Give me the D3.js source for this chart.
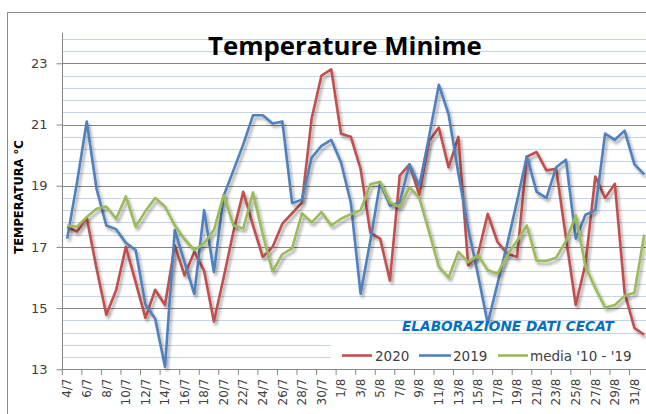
<!DOCTYPE html>
<html><head><meta charset="utf-8">
<script src="https://cdn.jsdelivr.net/npm/d3@7"></script>
<style>body{margin:0;background:#fff}svg{display:block}</style>
</head><body>
<svg id="c" width="646" height="414"></svg>
<script>
const dates = ['4/7','5/7','6/7','7/7','8/7','9/7','10/7','11/7','12/7','13/7','14/7','15/7','16/7','17/7','18/7','19/7','20/7','21/7','22/7','23/7','24/7','25/7','26/7','27/7','28/7','29/7','30/7','31/7',
 '1/8','2/8','3/8','4/8','5/8','6/8','7/8','8/8','9/8','10/8','11/8','12/8','13/8','14/8','15/8','16/8','17/8','18/8','19/8','20/8','21/8','22/8','23/8','24/8','25/8','26/8','27/8','28/8','29/8','30/8','31/8','1/9'];
const s2020 = [17.65,17.5,17.95,16.3,14.78,15.58,17.0,15.85,14.68,15.6,15.1,17.05,16.07,16.84,16.22,14.56,16.0,17.5,18.8,17.7,16.67,17.0,17.76,18.1,18.45,21.2,22.6,22.8,
 20.7,20.6,19.55,17.46,17.27,15.9,19.33,19.7,18.7,20.46,20.9,19.6,20.6,16.4,16.75,18.08,17.16,16.78,16.67,19.95,20.1,19.5,19.55,17.3,15.1,16.46,19.3,18.6,19.06,15.5,14.35,14.13];
const s2019 = [17.27,19.1,21.1,18.9,17.7,17.58,17.13,16.9,15.12,14.65,13.08,17.55,16.5,15.46,18.2,16.18,18.67,19.5,20.35,21.3,21.3,21.03,21.1,18.43,18.54,19.92,20.3,20.5,
 19.76,18.45,15.47,17.2,19.1,18.35,18.45,19.7,19.0,20.6,22.3,21.33,19.4,17.6,16.1,14.5,15.8,17.1,18.5,19.96,18.8,18.6,19.6,19.85,17.27,18.05,18.2,20.7,20.5,20.8,19.7,19.37];
const sMedia = [17.7,17.66,17.98,18.25,18.32,17.92,18.65,17.66,18.17,18.6,18.32,17.7,17.25,16.9,17.12,17.55,18.7,17.7,17.6,18.78,17.4,16.2,16.76,16.95,18.1,17.8,18.14,17.7,
 17.92,18.07,18.2,19.05,19.13,18.45,18.3,18.95,18.6,17.5,16.35,16.0,16.84,16.5,16.73,16.24,16.13,16.73,17.2,17.7,16.54,16.54,16.65,17.2,18.03,16.35,15.65,15.02,15.1,15.4,15.5,17.4];
const yTicks = [13,15,17,19,21,23];
const seriesNames = ['2020','2019',"media '10 - '19"];
const seriesColors = ['#c0504d','#4f81bd','#9bbb59'];
const title = 'Temperature Minime';
const yTitle = 'TEMPERATURA °C';
const credit = 'ELABORAZIONE DATI CECAT';

const svg = d3.select('#c');
const defs = svg.append('defs');
const f = defs.append('filter').attr('id','sh').attr('x','-10%').attr('y','-10%').attr('width','120%').attr('height','130%');
f.append('feDropShadow').attr('dx',2).attr('dy',3).attr('stdDeviation',1.6).attr('flood-color','#000').attr('flood-opacity',0.35);

const x = d3.scaleBand().domain(dates).range([62.3, 62.3 + 9.78*dates.length]).padding(0);
const cx = d => x(d) + x.bandwidth()/2;
const y = d3.scaleLinear().domain([13,24]).range([369.3, 32.7]);
const xR = 660;

// outer border
svg.append('rect').attr('x',7.5).attr('y',12.5).attr('width',700).attr('height',420)
  .attr('fill','#fff').attr('stroke','#8c8c8c').attr('stroke-width',1);

// minor gridlines
const minor = d3.range(1,28).filter(k => k%5 !== 0).map(k => 13 + k*0.4);
svg.append('g').selectAll('line').data(minor).join('line')
  .attr('x1',62.3).attr('x2',xR).attr('y1',d=>Math.round(y(d))+0.5).attr('y2',d=>Math.round(y(d))+0.5)
  .attr('stroke','#c5d3ec').attr('stroke-width',1);
// major gridlines
svg.append('g').selectAll('line').data(yTicks).join('line')
  .attr('x1',62.3).attr('x2',xR).attr('y1',d=>Math.round(y(d))+0.5).attr('y2',d=>Math.round(y(d))+0.5)
  .attr('stroke','#868686').attr('stroke-width',1);

// y axis
const ya = svg.append('g').attr('transform','translate(62.5,0)')
  .call(d3.axisLeft(y).tickValues(yTicks).tickSize(6).tickFormat(d3.format('d')));
ya.select('.domain').attr('stroke','#868686').attr('d','M0,32.7V369.3');
ya.selectAll('.tick line').attr('stroke','#868686');
ya.selectAll('.tick text').attr('x',-15).attr('fill','#404040')
  .style('font-family','"DejaVu Sans", sans-serif').style('font-size','13px');

// x axis
const evenDates = dates.filter((d,i)=> i%2===0);
const xa = svg.append('g').attr('transform','translate(0,369.5)')
  .call(d3.axisBottom(x).tickValues(evenDates).tickSize(0));
xa.select('.domain').remove();
xa.selectAll('.tick text')
  .attr('transform','translate(0,9) rotate(-90)')
  .attr('text-anchor','end').attr('x',0).attr('y',0).attr('dy','0.35em')
  .attr('fill','#404040')
  .style('font-family','"DejaVu Sans", sans-serif').style('font-size','12px');
svg.append('g').selectAll('line').data(evenDates).join('line')
  .attr('x1',d=>x(d)).attr('x2',d=>x(d)).attr('y1',369.3).attr('y2',375)
  .attr('stroke','#868686');

// series
const line = d3.line().x((d,i)=>cx(dates[i])).y(d=>y(d));
const seriesData = [s2020, s2019, sMedia];
svg.append('g').selectAll('path').data(seriesData).join('path')
  .attr('d', line).attr('fill','none')
  .attr('stroke',(d,i)=>seriesColors[i]).attr('stroke-width',2.6)
  .attr('stroke-linejoin','round').attr('filter','url(#sh)');

// title
const t = svg.append('text').attr('x',208).attr('y',55).text(title)
  .style('font-family','"Open Sans", sans-serif').style('font-weight','bold').style('font-size','26px').attr('fill','#000');
{ const L = t.node().getComputedTextLength(); t.style('font-size', (26*274/L)+'px'); }

// y title
svg.append('text').attr('transform','translate(23,197) rotate(-90)').attr('text-anchor','middle')
  .text(yTitle).style('font-family','"DejaVu Sans", sans-serif').style('font-weight','bold').style('font-size','11.5px').attr('fill','#000');

// credit
const c = svg.append('text').attr('x',402).attr('y',330.5).text(credit)
  .style('font-family','"DejaVu Sans", sans-serif').style('font-weight','bold').style('font-style','italic').style('font-size','14px').attr('fill','#0070c0');
{ const L = c.node().getComputedTextLength(); c.style('font-size', (14*212/L)+'px'); }

// legend
svg.append('rect').attr('x',331).attr('y',340).attr('width',330).attr('height',28.5).attr('fill','#fff');
const legX = [[342,372,375],[419,451,453],[498,528,530]];
const lg = svg.append('g').selectAll('g').data(seriesNames).join('g');
lg.append('line').attr('x1',(d,i)=>legX[i][0]).attr('x2',(d,i)=>legX[i][1]).attr('y1',355.5).attr('y2',355.5)
  .attr('stroke',(d,i)=>seriesColors[i]).attr('stroke-width',2.6);
lg.append('text').attr('x',(d,i)=>legX[i][2]).attr('y',360.5).text(d=>d)
  .style('font-family','"DejaVu Sans", sans-serif').style('font-size','13.5px').attr('fill','#404040');
</script>
</body></html>
